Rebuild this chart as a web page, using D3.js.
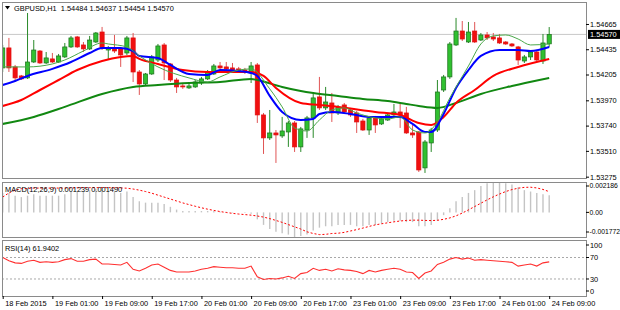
<!DOCTYPE html>
<html><head><meta charset="utf-8">
<script src="https://cdn.jsdelivr.net/npm/d3@7"></script>
<style>
html,body{margin:0;padding:0;background:#fff;}
svg{display:block;}
text{font-family:"Liberation Sans",Arial,sans-serif;font-size:7.4px;fill:#000;}
</style></head><body>
<svg id="c" width="620" height="310"></svg>
<script>
// ---------------- data ----------------
const header = "GBPUSD,H1  1.54484 1.54637 1.54454 1.54570";
const bid = 1.54570;
const open = [
1.54265,1.54447,1.54274,1.54192,1.54174,1.54319,1.54419,1.54310,1.54347,1.54319,
1.54365,1.54456,1.54547,1.54474,1.54438,1.54501,1.54592,1.54428,1.54447,1.54438,
1.54401,1.54538,1.54228,1.54119,1.54210,1.54337,1.54474,1.54301,1.54155,1.54101,
1.54083,1.54092,1.54128,1.54165,1.54210,1.54283,1.54274,1.54265,1.54256,1.54246,
1.54219,1.54292,1.53837,1.53628,1.53673,1.53646,1.53682,1.53764,1.53546,1.53700,
1.53810,1.54001,1.53901,1.53946,1.53855,1.53928,1.53882,1.53855,1.53782,1.53700,
1.53810,1.53755,1.53791,1.53837,1.53864,1.53855,1.53673,1.53682,1.53355,1.53582,
1.53700,1.54064,1.54183,1.54474,1.54601,1.54501,1.54601,1.54519,1.54565,1.54547,
1.54538,1.54501,1.54483,1.54456,1.54328,1.54365,1.54410,1.54328,1.54484];
const high = [
1.54474,1.54538,1.54292,1.54201,1.54765,1.54519,1.54428,1.54410,1.54401,1.54392,
1.54492,1.54556,1.54556,1.54501,1.54556,1.54592,1.54638,1.54465,1.54565,1.54456,
1.54556,1.54583,1.54246,1.54219,1.54383,1.54483,1.54492,1.54310,1.54174,1.54128,
1.54128,1.54155,1.54183,1.54246,1.54301,1.54319,1.54319,1.54310,1.54274,1.54265,
1.54319,1.54310,1.53855,1.53882,1.53700,1.53819,1.53782,1.53782,1.53728,1.53828,
1.54028,1.54183,1.54092,1.54037,1.53928,1.53946,1.53901,1.53873,1.53801,1.53828,
1.53828,1.53819,1.53855,1.53937,1.53937,1.53910,1.53746,1.53691,1.53609,1.53719,
1.54155,1.54201,1.54501,1.54720,1.54692,1.54683,1.54683,1.54583,1.54592,1.54583,
1.54574,1.54510,1.54492,1.54465,1.54383,1.54428,1.54419,1.54574,1.54637];
const low = [
1.54228,1.54228,1.54137,1.54155,1.54165,1.54310,1.54301,1.54301,1.54310,1.54310,
1.54356,1.54447,1.54447,1.54410,1.54428,1.54492,1.54428,1.54337,1.54401,1.54274,
1.54383,1.54137,1.54019,1.54101,1.54201,1.54319,1.54155,1.54137,1.54037,1.54074,
1.54074,1.54083,1.54110,1.54155,1.54201,1.54228,1.54246,1.54228,1.54219,1.54210,
1.54128,1.53764,1.53482,1.53609,1.53400,1.53628,1.53546,1.53500,1.53500,1.53628,
1.53628,1.53882,1.53882,1.53773,1.53837,1.53846,1.53819,1.53673,1.53691,1.53655,
1.53673,1.53746,1.53782,1.53828,1.53719,1.53664,1.53628,1.53318,1.53309,1.53500,
1.53682,1.54046,1.54165,1.54465,1.54510,1.54492,1.54492,1.54510,1.54519,1.54510,
1.54483,1.54474,1.54456,1.54292,1.54310,1.54337,1.54328,1.54301,1.54454];
const close = [
1.54447,1.54265,1.54174,1.54165,1.54319,1.54428,1.54310,1.54356,1.54319,1.54374,
1.54456,1.54538,1.54456,1.54438,1.54519,1.54583,1.54447,1.54447,1.54419,1.54383,
1.54538,1.54228,1.54119,1.54210,1.54365,1.54465,1.54310,1.54155,1.54092,1.54092,
1.54101,1.54137,1.54165,1.54228,1.54283,1.54265,1.54256,1.54237,1.54228,1.54228,
1.54283,1.53837,1.53628,1.53673,1.53655,1.53691,1.53764,1.53546,1.53710,1.53810,
1.53992,1.53901,1.53955,1.53855,1.53910,1.53864,1.53837,1.53773,1.53700,1.53810,
1.53746,1.53801,1.53837,1.53864,1.53837,1.53673,1.53655,1.53336,1.53591,1.53700,
1.54046,1.54183,1.54483,1.54601,1.54528,1.54592,1.54501,1.54565,1.54538,1.54528,
1.54492,1.54483,1.54465,1.54337,1.54365,1.54410,1.54337,1.54492,1.54570];

// moving averages read at sampled bars
const maBlueIdx = [0,2,4,8,11,14,16,19,21,22,25,27,30,33,35,38,40,41,43,45,48,50,51,53,56,59,62,64,66,68,69,71,73,75,77,80,83,85,88];
const maBlue = [1.54110,1.54146,1.54192,1.54256,1.54319,1.54401,1.54447,1.54447,1.54419,1.54374,
1.54356,1.54292,1.54210,1.54201,1.54246,1.54237,1.54219,1.54192,1.54010,1.53864,
1.53791,1.53801,1.53846,1.53864,1.53846,1.53819,1.53819,1.53819,1.53755,1.53682,
1.53682,1.53846,1.54083,1.54246,1.54374,1.54428,1.54428,1.54419,1.54456];
const maRedIdx = [0,3,6,9,12,16,19,21,22,25,29,33,37,40,42,44,48,51,54,60,64,67,69,71,73,76,79,83,88];
const maRed = [1.53919,1.53973,1.54064,1.54155,1.54246,1.54328,1.54365,1.54374,1.54347,1.54301,
1.54246,1.54228,1.54228,1.54228,1.54192,1.54083,1.53946,1.53928,1.53910,1.53864,
1.53837,1.53764,1.53746,1.53819,1.53946,1.54064,1.54192,1.54274,1.54347];
const maSlowIdx = [0,5,10,16,21,25,30,35,40,41,45,48,50,54,58,62,65,67,70,73,77,82,88];
const maSlow = [1.53755,1.53819,1.53910,1.54028,1.54092,1.54110,1.54128,1.54137,1.54165,1.54155,
1.54092,1.54055,1.54037,1.54010,1.53983,1.53964,1.53937,1.53919,1.53901,1.53946,
1.54028,1.54101,1.54174];
const maFastIdx = [0,4,8,10,13,16,17,20,22,25,30,33,35,38,40,43,45,47,49,51,53,55,57,60,62,64,66,68,70,72,75,77,79,81,83,85,88];
const maFast = [1.54274,1.54274,1.54301,1.54337,1.54419,1.54492,1.54483,1.54456,1.54374,1.54274,
1.54174,1.54137,1.54183,1.54246,1.54256,1.54074,1.53910,1.53719,1.53691,1.53791,
1.53882,1.53901,1.53855,1.53810,1.53801,1.53819,1.53700,1.53673,1.53773,1.53992,
1.54283,1.54483,1.54556,1.54565,1.54528,1.54474,1.54483];

const macdHist = [
0.0014,0.0014,0.0012,0.0011,0.0012,0.0013,0.0012,0.0012,0.0012,0.0012,
0.0013,0.0015,0.0015,0.0015,0.0016,0.0017,0.0016,0.0015,0.0015,0.0014,
0.0015,0.0011,0.0008,0.0007,0.0007,0.0007,0.0006,0.0004,0.0002,0.0001,
0.0001,0.0001,0.0001,0.0001,0.0001,0.00005,0.00005,0.00003,0.0000,-0.00005,
-0.0001,-0.0005,-0.0009,-0.0012,-0.0014,-0.0015,-0.0016,-0.00177,-0.0017,-0.0016,
-0.0013,-0.0011,-0.0010,-0.0010,-0.0009,-0.0009,-0.0009,-0.0010,-0.0010,-0.0009,
-0.0009,-0.0008,-0.0007,-0.0006,-0.0006,-0.0007,-0.0007,-0.0010,-0.0010,-0.0009,
-0.0006,-0.0002,0.0003,0.0008,0.0011,0.0014,0.0016,0.0019,0.0021,0.00218,
0.00215,0.0021,0.0020,0.0018,0.0016,0.0015,0.0014,0.0013,0.001239];
const macdSignal = [
0.00110,0.00140,0.00160,0.00170,0.00172,0.00175,0.00175,0.00175,0.00175,0.00175,
0.00175,0.00176,0.00177,0.00178,0.00178,0.00178,0.00178,0.00178,0.00177,0.00176,
0.00174,0.00168,0.00160,0.00150,0.00138,0.00124,0.00110,0.00096,0.00082,0.00068,
0.00056,0.00044,0.00033,0.00023,0.00014,0.00006,-0.00001,-0.00007,-0.00012,-0.00016,
-0.00020,-0.00026,-0.00034,-0.00045,-0.00058,-0.00072,-0.00088,-0.00104,-0.00120,-0.00140,
-0.00152,-0.00160,-0.00158,-0.00152,-0.00150,-0.00144,-0.00134,-0.00124,-0.00113,-0.00101,
-0.00090,-0.00082,-0.00075,-0.00068,-0.00062,-0.00058,-0.00056,-0.00056,-0.00058,-0.00059,
-0.00057,-0.00050,-0.00040,-0.00025,-0.00005,0.00018,0.00042,0.00066,0.00090,0.00112,
0.00132,0.00150,0.00164,0.00174,0.00180,0.00181,0.00176,0.00165,0.00149];
const rsi = [
70,64,60,59,63,65,61,62,61,62,
66,68,63,63,66,67,58,58,57,56,
61,48,45,50,56,58,52,46,43,43,
43,45,48,50,53,52,51,51,50,50,
54,34,29,31,30,32,35,31,40,42,
50,46,48,45,49,47,46,44,40,46,
43,46,48,50,48,43,42,31,41,45,
57,61,67,70,67,69,65,66,65,64,
63,62,61,54,56,58,54,60,61.94];

const priceTicks = [1.54665,1.54435,1.54205,1.53970,1.53740,1.53510,1.53275];
const macdLabel = "MACD(12,26,9) 0.001239 0.001490";
const macdMax = 0.002186, macdMin = -0.001772;
const macdTickText = ["0.002186","0.00","-0.001772"];
const rsiLabel = "RSI(14) 61.9402";
const rsiTicks = [100,70,30,0];
const rsiLevels = [70,30];
const dateIdx = [0,8,16,24,32,40,48,56,64,72,80,88];
const dateLabels = ["18 Feb 2015","19 Feb 01:00","19 Feb 09:00","19 Feb 17:00","20 Feb 01:00","20 Feb 09:00",
"20 Feb 17:00","23 Feb 01:00","23 Feb 09:00","23 Feb 17:00","24 Feb 01:00","24 Feb 09:00"];

// ---------------- layout ----------------
const svg = d3.select("#c");
const PL = 2, PR = 586;
const mainP = {t:2, b:178}, macdP = {t:182, b:237}, rsiP = {t:240, b:296};
const n = close.length;
const x = d3.scaleLinear().domain([0, n-1]).range([2.7, 549.2]);
const yM = d3.scaleLinear().domain([1.53263, 1.54865]).range([mainP.b, mainP.t]);
const yD = d3.scaleLinear().domain([macdMin, macdMax]).range([macdP.b, macdP.t]);
const yR = d3.scaleLinear().domain([0, 100]).range([295.1, 241.4]);

const defs = svg.append("defs");
function clip(id, p){
  defs.append("clipPath").attr("id", id).append("rect")
    .attr("x", PL+1).attr("y", p.t+1).attr("width", PR-PL-1).attr("height", p.b-p.t-1);
}
clip("cm", mainP); clip("cd", macdP); clip("cr", rsiP);

// frames
[mainP, macdP, rsiP].forEach(p=>{
  svg.append("rect").attr("x", PL+0.5).attr("y", p.t+0.5).attr("width", PR-PL).attr("height", p.b-p.t)
    .attr("fill","none").attr("stroke","#8a8a8a").attr("stroke-width",1);
});

// ---------------- main panel ----------------
const gm = svg.append("g").attr("clip-path","url(#cm)");
gm.append("line").attr("x1",PL).attr("x2",PR).attr("y1",yM(bid)).attr("y2",yM(bid))
  .attr("stroke","#c8c8c8").attr("stroke-width",1);

const bars = d3.range(n).map(i=>({i, o:open[i], h:high[i], l:low[i], c:close[i], up: close[i]>=open[i]}));
gm.selectAll("line.wick").data(bars).join("line").attr("class","wick")
  .attr("x1",d=>x(d.i)).attr("x2",d=>x(d.i)).attr("y1",d=>yM(d.h)).attr("y2",d=>yM(d.l))
  .attr("stroke",d=>d.up?"#2a8a2a":"#e05555").attr("stroke-width",1);
gm.selectAll("rect.body").data(bars).join("rect").attr("class","body")
  .attr("x",d=>x(d.i)-2.1).attr("width",4.2)
  .attr("y",d=>yM(Math.max(d.o,d.c)))
  .attr("height",d=>Math.max(1, Math.abs(yM(d.o)-yM(d.c))))
  .attr("fill",d=>d.up?"#30c030":"#f01010")
  .attr("stroke",d=>d.up?"#1d6e1d":"#e01010").attr("stroke-width",0.7);

function maLine(idx, vals, color, w){
  const line = d3.line().x(d=>x(d[0])).y(d=>yM(d[1])).curve(d3.curveMonotoneX);
  gm.append("path").datum(idx.map((k,j)=>[k, vals[j]])).attr("d", line)
    .attr("fill","none").attr("stroke",color).attr("stroke-width",w).attr("stroke-linejoin","round");
}
maLine(maSlowIdx, maSlow, "#118811", 2);
maLine(maRedIdx, maRed, "#ff0000", 2);
maLine(maBlueIdx, maBlue, "#0000ff", 2);
maLine(maFastIdx, maFast, "#4aa84a", 1);

// price axis
const ax = svg.append("g").attr("transform",`translate(${PR},0)`)
  .call(d3.axisRight(yM).tickValues(priceTicks).tickSize(3).tickPadding(1).tickFormat(d3.format(".5f")));
ax.select(".domain").remove();
ax.selectAll("text").style("font-size","7.4px");
// bid label
svg.append("rect").attr("x",PR+2).attr("y",yM(bid)-4.5).attr("width",32).attr("height",9).attr("fill","#000");
svg.append("text").attr("x",PR+4).attr("y",yM(bid)).attr("dy","0.35em").style("fill","#fff").text(d3.format(".5f")(bid));

// header
svg.append("path").attr("d","M5,6 L10,6 L7.5,9.5 Z").attr("fill","#000");
svg.append("text").attr("x",14).attr("y",11).attr("xml:space","preserve").style("white-space","pre").text(header);

// ---------------- MACD ----------------
const gd = svg.append("g").attr("clip-path","url(#cd)");
gd.selectAll("line.h").data(macdHist).join("line").attr("class","h")
  .attr("x1",(d,i)=>x(i)).attr("x2",(d,i)=>x(i)).attr("y1",yD(0)).attr("y2",d=>yD(d))
  .attr("stroke","#c4c4c4").attr("stroke-width",1.4);
gd.append("path").datum(macdSignal)
  .attr("d", d3.line().x((d,i)=>x(i)).y(d=>yD(d)))
  .attr("fill","none").attr("stroke","#ff0000").attr("stroke-width",1).attr("stroke-dasharray","2,2");
svg.append("text").attr("x",5).attr("y",192).text(macdLabel);
const macdTickPos = [macdP.t+4, yD(0), macdP.b-5];
macdTickPos.forEach((yy,k)=>{
  svg.append("line").attr("x1",PR).attr("x2",PR+3).attr("y1",yy).attr("y2",yy).attr("stroke","#000");
  svg.append("text").attr("x",PR+3.5).attr("y",yy).attr("dy","0.35em").style("font-size","6.8px").text(macdTickText[k]);
});

// ---------------- RSI ----------------
const gr = svg.append("g").attr("clip-path","url(#cr)");
rsiLevels.forEach(v=>{
  gr.append("line").attr("x1",PL).attr("x2",PR).attr("y1",yR(v)).attr("y2",yR(v))
    .attr("stroke","#a8a8a8").attr("stroke-width",1).attr("stroke-dasharray","2,2");
});
gr.append("path").datum(rsi)
  .attr("d", d3.line().x((d,i)=>x(i)).y(d=>yR(d)))
  .attr("fill","none").attr("stroke","#ff3030").attr("stroke-width",1.1);
svg.append("text").attr("x",5).attr("y",251).text(rsiLabel);
rsiTicks.forEach(v=>{
  const yy = Math.min(rsiP.b-5, Math.max(rsiP.t+5, yR(v)));
  svg.append("line").attr("x1",PR).attr("x2",PR+3).attr("y1",yy).attr("y2",yy).attr("stroke","#000");
  svg.append("text").attr("x",PR+4).attr("y",yy).attr("dy","0.35em").text(String(v));
});

// ---------------- time axis ----------------
const tx = svg.append("g").attr("transform",`translate(0,${rsiP.b})`)
  .call(d3.axisBottom(x).tickValues(dateIdx).tickSize(3).tickPadding(2).tickFormat((d,i)=>dateLabels[i]));
tx.select(".domain").remove();
tx.selectAll("text").attr("text-anchor","start").attr("x",2).style("font-size","7.4px");
</script>
</body></html>
